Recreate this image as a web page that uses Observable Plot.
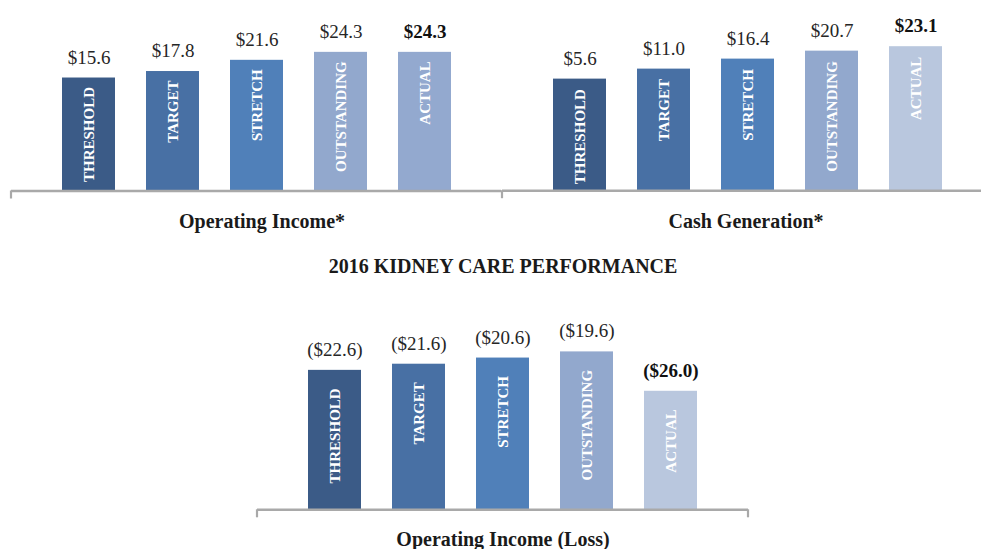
<!DOCTYPE html>
<html>
<head>
<meta charset="utf-8">
<script src="https://cdn.jsdelivr.net/npm/d3@7"></script>
<script src="https://cdn.jsdelivr.net/npm/@observablehq/plot@0.6"></script>
<style>
  html, body { margin: 0; padding: 0; background: #ffffff; }
  #root { position: relative; width: 981px; height: 549px; overflow: hidden;
          font-family: "Liberation Serif", "Times New Roman", serif; }
  .panel { position: absolute; }
  .panel svg { overflow: visible; }
</style>
</head>
<body>
<div id="root"></div>
<script>
// ---------- data ----------
const categories = ["THRESHOLD", "TARGET", "STRETCH", "OUTSTANDING", "ACTUAL"];

const operatingIncome = [15.6, 17.8, 21.6, 24.3, 24.3];
const cashGeneration = [5.6, 11.0, 16.4, 20.7, 23.1];
const kidneyOperatingIncome = [-22.6, -21.6, -20.6, -19.6, -26.0];

const panelTitles = ["Operating Income*", "Cash Generation*", "Operating Income (Loss)"];
const sectionTitle = "2016 KIDNEY CARE PERFORMANCE";

const colorsOperating = ["#3b5b87", "#4870a4", "#5080b9", "#92a8cd", "#93a9cf"];
const colorsCash = ["#3b5b87", "#4870a4", "#5080b9", "#92a8cd", "#b9c7de"];
const colorsKidney = ["#3b5b87", "#4870a4", "#5080b9", "#92a8cd", "#b9c7de"];

// ---------- helpers ----------
const fmt = v => v >= 0 ? `$${v.toFixed(1)}` : `($${(-v).toFixed(1)})`;
const AXIS = "#a9a9a9";
const TEXT = "#262626";

function panel(opts) {
  const {values, colors, left, top, width, height, xRange, yDomain, yRange,
         marginLeft, marginRight, labelGap, ticks, title, titleDx, titleY, extra} = opts;
  const rows = categories.map((c, i) => ({category: c, value: values[i], color: colors[i]}));
  const base = yDomain[0];
  const tickMark = (index, scales, vals, dim) => {
    const g = d3.create("svg:g");
    const y0 = scales.y(base);
    for (const t of ticks) {
      const x = t === "left" ? dim.marginLeft : dim.width - dim.marginRight;
      g.append("line").attr("x1", x).attr("x2", x).attr("y1", y0).attr("y2", y0 + 8)
        .attr("stroke", AXIS).attr("stroke-width", 2.2);
    }
    return g.node();
  };
  const marks = [
    Plot.barY(rows, {x: "category", y1: base, y2: "value", fill: "color"}),
    Plot.ruleY([base], {stroke: AXIS, strokeWidth: 2.4}),
    tickMark,
    Plot.text(rows, {filter: d => d.category !== "ACTUAL", x: "category", y: "value",
      text: d => fmt(d.value), lineAnchor: "bottom", dy: -14.5, fontSize: 19, fill: TEXT,
      fontFamily: "Liberation Serif"}),
    Plot.text(rows, {filter: d => d.category === "ACTUAL", x: "category", y: "value",
      text: d => fmt(d.value), lineAnchor: "bottom", dy: -14.5, fontSize: 19, fill: "#111",
      fontWeight: "bold", fontFamily: "Liberation Serif"}),
    Plot.text(rows, {x: "category", y: "value", text: "category", rotate: -90,
      textAnchor: "end", lineAnchor: "middle", dy: labelGap, fill: "white",
      fontWeight: "bold", fontSize: 15, fontFamily: "Liberation Serif"}),
    Plot.text([title], {frameAnchor: "top", dy: titleY, dx: titleDx, lineAnchor: "bottom",
      fontSize: 20, fontWeight: "bold", fill: "#1a1a1a", fontFamily: "Liberation Serif"})
  ];
  if (extra) marks.push(extra);
  const chart = Plot.plot({
    width, height, marginLeft, marginRight, marginTop: 0, marginBottom: 0,
    style: {background: "transparent", fontFamily: "Liberation Serif"},
    x: {domain: categories, range: xRange, paddingInner: 0.364, paddingOuter: 0.182, align: 0.5, axis: null},
    y: {domain: yDomain, range: yRange, axis: null},
    color: {type: "identity"},
    marks
  });
  const div = document.createElement("div");
  div.className = "panel";
  div.style.left = left + "px";
  div.style.top = top + "px";
  div.appendChild(chart);
  document.getElementById("root").appendChild(div);
}

// Top-left: Operating Income*
panel({
  values: operatingIncome, colors: colorsOperating,
  left: 0, top: 0, width: 501, height: 240,
  marginLeft: 11, marginRight: 0,
  xRange: [46.7, 467.2], yDomain: [-22.7, 24.3], yRange: [190.5, 51.85],
  labelGap: 9, ticks: ["left"], title: panelTitles[0], titleDx: 5.5, titleY: 227
});

// Top-right: Cash Generation*
panel({
  values: cashGeneration, colors: colorsCash,
  left: 501, top: 0, width: 480, height: 240,
  marginLeft: 1, marginRight: 0,
  xRange: [36.4, 456.9], yDomain: [-54.65, 23.1], yRange: [190.2, 46.2],
  labelGap: 10, ticks: ["left"], title: panelTitles[1], titleDx: 4, titleY: 227
});

// Bottom: Kidney Care Operating Income (Loss)
panel({
  values: kidneyOperatingIncome, colors: colorsKidney,
  left: 240, top: 250, width: 520, height: 299,
  marginLeft: 17, marginRight: 12,
  xRange: [52.4, 472.9], yDomain: [-45.26, -19.6], yRange: [259.3, 101.4],
  labelGap: 18, ticks: ["left", "right"], title: panelTitles[2], titleDx: 0, titleY: 295,
  extra: Plot.text([sectionTitle], {frameAnchor: "top", dy: 22, lineAnchor: "bottom",
    fontSize: 20, fontWeight: "bold", fill: "#1a1a1a", fontFamily: "Liberation Serif"})
});
</script>
</body>
</html>
